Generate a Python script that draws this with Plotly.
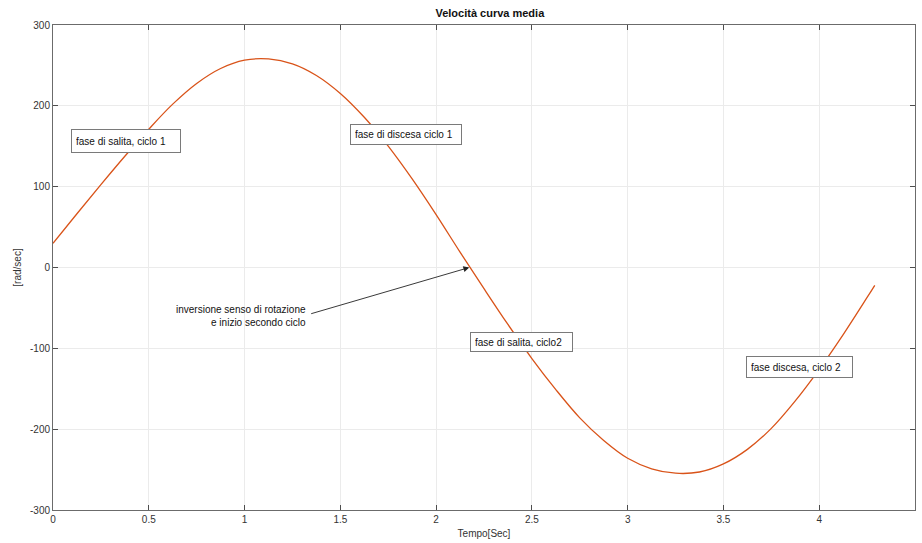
import plotly.graph_objects as go

# Data
tempo = [0.0, 0.125, 0.25, 0.375, 0.5, 0.625, 0.75, 0.875, 1.0, 1.125, 1.25,
         1.375, 1.5, 1.625, 1.75, 1.875, 2.0, 2.125, 2.25, 2.375, 2.5, 2.625,
         2.75, 2.875, 3.0, 3.125, 3.25, 3.375, 3.5, 3.625, 3.75, 3.875, 4.0,
         4.125, 4.25, 4.29]
velocita = [30, 66.5, 102.5, 137.6, 171.1, 202.1, 227.7, 246.2, 256.5, 258, 252,
            237.6, 215.3, 185.8, 150.2, 109.6, 65.4, 19, -26.2, -70.5, -112.6, -151.1,
            -186, -214, -236, -249, -254.5, -253, -243, -225, -199, -165, -126,
            -83, -37, -22]

x_ticks = [0, 0.5, 1, 1.5, 2, 2.5, 3, 3.5, 4, 4.5]
x_ticklabels = ["0", "0.5", "1", "1.5", "2", "2.5", "3", "3.5", "4", "4.5"]
y_ticks = [-300, -200, -100, 0, 100, 200, 300]
y_ticklabels = ["-300", "-200", "-100", "0", "100", "200", "300"]

FONT = "Liberation Sans, Arial, Helvetica, sans-serif"

fig = go.Figure()
fig.add_trace(go.Scatter(
    x=tempo, y=velocita, mode="lines",
    line=dict(color="#D95319", width=1.3, shape="spline", smoothing=1.0),
    hoverinfo="skip", showlegend=False,
))

axis_common = dict(
    showline=True, linecolor="#6b6b6b", linewidth=1, mirror="ticks",
    ticks="inside", ticklen=5, tickcolor="#4d4d4d", tickwidth=1,
    showgrid=True, gridcolor="#ebebeb", gridwidth=1,
    zeroline=False, tickfont=dict(family=FONT, size=10, color="#333333"),
)

fig.update_xaxes(range=[0, 4.5], tickvals=x_ticks, ticktext=x_ticklabels,
                 title=dict(text="Tempo[Sec]", standoff=5,
                            font=dict(family=FONT, size=10, color="#333333")),
                 **axis_common)
fig.update_yaxes(range=[-300, 300], tickvals=y_ticks, ticktext=y_ticklabels,
                 title=dict(text="[rad/sec]", standoff=6,
                            font=dict(family=FONT, size=10, color="#333333")),
                 **axis_common)

annotations = []
boxes = [
    ("fase di salita, ciclo 1", 0.094, 156.6, 100, 14),
    ("fase di discesa ciclo 1", 1.552, 164.0, 102, 11),
    ("fase di salita, ciclo2", 2.177, -91.6, 93, 10),
    ("fase discesa, ciclo 2", 3.616, -123.2, 97, 12),
]
for txt, bx, by, w, h in boxes:
    annotations.append(dict(
        x=bx, y=by, xref="x", yref="y", text=txt, showarrow=False,
        xanchor="left", yanchor="middle", align="left", width=w, height=h,
        font=dict(family=FONT, size=10, color="#111111"),
        bgcolor="white", bordercolor="#7a7a7a", borderwidth=1, borderpad=4,
    ))

# arrow
annotations.append(dict(
    x=2.173, y=0, xref="x", yref="y", ax=1.34, ay=-57.7, axref="x", ayref="y",
    text="", showarrow=True, arrowhead=2, arrowsize=1.3, arrowwidth=0.9,
    arrowcolor="#222222", standoff=0, startstandoff=0,
))
annotations.append(dict(
    x=1.33, y=-60.2, xref="x", yref="y",
    text="inversione senso di rotazione<br>e inizio secondo ciclo",
    showarrow=False, xanchor="right", yanchor="middle", align="right",
    font=dict(family=FONT, size=10, color="#111111"),
))

fig.update_layout(
    width=922, height=543,
    margin=dict(l=53, r=7, t=25, b=33),
    paper_bgcolor="white", plot_bgcolor="white",
    title=dict(text="<b>Velocità curva media</b>", x=0.5313, xanchor="center",
               y=0.975, yanchor="middle",
               font=dict(family=FONT, size=11, color="#111111")),
    annotations=annotations,
)

fig.write_html("out.html")
